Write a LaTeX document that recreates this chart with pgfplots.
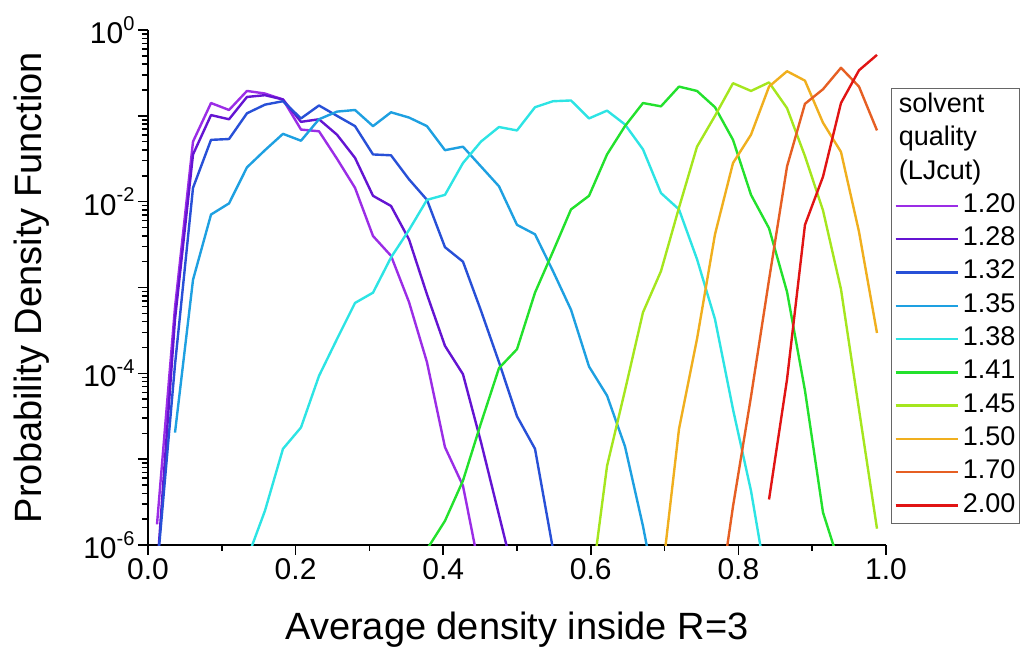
\documentclass[border=0pt]{standalone}
\usepackage{fontspec}
\setmainfont{Liberation Sans}
\usepackage{pgfplots}
\pgfplotsset{compat=1.18}
\definecolor{cA}{RGB}{155,45,230}
\definecolor{cB}{RGB}{100,20,210}
\definecolor{cC}{RGB}{40,80,215}
\definecolor{cD}{RGB}{30,160,225}
\definecolor{cE}{RGB}{45,228,228}
\definecolor{cF}{RGB}{35,225,45}
\definecolor{cG}{RGB}{165,230,30}
\definecolor{cH}{RGB}{240,175,30}
\definecolor{cI}{RGB}{230,95,35}
\definecolor{cJ}{RGB}{225,20,20}
\newcommand{\pw}[1]{10\raisebox{0.45em}{\fontsize{20}{20}\selectfont #1}}
\begin{document}
\begin{tikzpicture}
\useasboundingbox (-148pt,-108pt) rectangle (873pt,545pt);
\begin{axis}[
  scale only axis, width=738pt, height=515pt,
  at={(0pt,0pt)}, anchor=south west,
  xmin=0, xmax=1, ymode=log, ymin=1e-6, ymax=1,
  axis x line*=bottom, axis y line*=left,
  axis line style={line width=1.8pt, -},
  xtick={0,0.2,0.4,0.6,0.8,1.0}, xticklabels={0.0,0.2,0.4,0.6,0.8,1.0},
  minor xtick={0.1,0.3,0.5,0.7,0.9},
  ytick={1e-6,1e-5,1e-4,1e-3,1e-2,1e-1,1},
  yticklabels={\pw{-6},,\pw{-4},,\pw{-2},,\pw{0}},
  minor ytick={2e-6,3e-6,4e-6,5e-6,6e-6,7e-6,8e-6,9e-6,
               2e-5,3e-5,4e-5,5e-5,6e-5,7e-5,8e-5,9e-5,
               2e-4,3e-4,4e-4,5e-4,6e-4,7e-4,8e-4,9e-4,
               2e-3,3e-3,4e-3,5e-3,6e-3,7e-3,8e-3,9e-3,
               2e-2,3e-2,4e-2,5e-2,6e-2,7e-2,8e-2,9e-2,
               0.2,0.3,0.4,0.5,0.6,0.7,0.8,0.9},
  tick align=outside,
  major tick length=10pt, minor tick length=6pt,
  tick style={line width=1.5pt, black},
  tick label style={font=\fontsize{30}{34}\selectfont},
  xlabel={Average density inside R=3},
  ylabel={Probability Density Function},
  label style={font=\fontsize{38}{44}\selectfont},
  xlabel style={at={(axis description cs:0.5,-0.165)}, anchor=center},
  ylabel style={at={(axis description cs:-0.157,0.5)}, anchor=center},
  every axis plot/.append style={line width=2.4pt, line join=round, no markers},
  legend cell align=left,
  legend image code/.code={\draw[#1] (0pt,0pt) -- (62pt,0pt);},
  legend style={at={(axis description cs:1.0068,0.8874)}, anchor=north west,
    draw=black!60, line width=1pt, fill=white,
    font=\fontsize{27}{30}\selectfont,
    inner xsep=3pt, inner ysep=3pt, row sep=4.3pt, column sep=3pt,
    nodes={inner sep=1pt, text height=20pt, text depth=7pt}},
  clip=true,
]
\addlegendimage{legend image code/.code={}}
\addlegendentry{\hspace*{-64pt}solvent}
\addlegendimage{legend image code/.code={}}
\addlegendentry{\hspace*{-64pt}quality}
\addlegendimage{legend image code/.code={}}
\addlegendentry{\hspace*{-64pt}(LJcut)}

\addplot[cA] coordinates {
(0.0122,1.74e-6)(0.0366,5.89e-4)(0.0610,5.01e-2)(0.0854,0.141)(0.1098,0.117)
(0.1341,0.195)(0.1585,0.182)(0.1829,0.155)(0.2073,6.92e-2)(0.2317,6.61e-2)
(0.2561,3.16e-2)(0.2805,1.45e-2)(0.3049,3.98e-3)(0.3293,2.34e-3)(0.3537,6.76e-4)
(0.3780,1.35e-4)(0.4024,1.38e-5)(0.4268,4.90e-6)(0.4512,4.27e-7)};
\addlegendentry{1.20}

\addplot[cB] coordinates {
(0.0122,5.0e-7)(0.0366,4.27e-4)(0.0610,3.55e-2)(0.0854,0.102)(0.1098,9.12e-2)
(0.1341,0.166)(0.1585,0.174)(0.1829,0.155)(0.2073,8.51e-2)(0.2317,9.12e-2)
(0.2561,6.03e-2)(0.2805,3.24e-2)(0.3049,1.17e-2)(0.3293,8.91e-3)(0.3537,3.63e-3)
(0.3780,8.32e-4)(0.4024,2.09e-4)(0.4268,9.77e-5)(0.4512,1.58e-5)(0.4756,2.24e-6)
(0.5000,3.16e-7)};
\addlegendentry{1.28}

\addplot[cC] coordinates {
(0.0122,5.0e-7)(0.0366,1.26e-4)(0.0610,1.45e-2)(0.0854,5.25e-2)(0.1098,5.37e-2)
(0.1341,0.107)(0.1585,0.135)(0.1829,0.148)(0.2073,9.33e-2)(0.2317,0.132)
(0.2561,0.100)(0.2805,7.59e-2)(0.3049,3.55e-2)(0.3293,3.47e-2)(0.3537,1.82e-2)
(0.3780,1.05e-2)(0.4024,2.95e-3)(0.4268,2.00e-3)(0.4512,5.37e-4)(0.4756,1.35e-4)
(0.5000,3.16e-5)(0.5244,1.32e-5)(0.5488,8.9e-7)};
\addlegendentry{1.32}

\addplot[cD] coordinates {
(0.0366,2.04e-5)(0.0610,1.23e-3)(0.0854,7.08e-3)(0.1098,9.55e-3)
(0.1341,2.51e-2)(0.1585,3.98e-2)(0.1829,6.17e-2)(0.2073,5.13e-2)(0.2317,9.12e-2)
(0.2561,0.112)(0.2805,0.117)(0.3049,7.59e-2)(0.3293,0.110)(0.3537,9.55e-2)
(0.3780,7.59e-2)(0.4024,3.98e-2)(0.4268,4.37e-2)(0.4512,2.57e-2)(0.4756,1.51e-2)
(0.5000,5.37e-3)(0.5244,4.17e-3)(0.5488,1.55e-3)(0.5732,5.50e-4)(0.5976,1.20e-4)
(0.6220,5.50e-5)(0.6463,1.41e-5)(0.6707,1.66e-6)(0.6951,1.38e-7)};
\addlegendentry{1.35}

\addplot[cE] coordinates {
(0.1341,6.8e-7)(0.1585,2.51e-6)(0.1829,1.32e-5)(0.2073,2.34e-5)(0.2317,9.33e-5)
(0.2561,2.51e-4)(0.2805,6.61e-4)(0.3049,8.71e-4)(0.3293,2.24e-3)(0.3537,4.68e-3)
(0.3780,1.05e-2)(0.4024,1.20e-2)(0.4268,2.82e-2)(0.4512,5.01e-2)(0.4756,7.41e-2)
(0.5000,6.76e-2)(0.5244,0.126)(0.5488,0.148)(0.5732,0.151)(0.5976,9.33e-2)
(0.6220,0.115)(0.6463,7.94e-2)(0.6707,4.07e-2)(0.6951,1.26e-2)(0.7195,8.13e-3)
(0.7439,2.14e-3)(0.7683,4.27e-4)(0.7927,3.80e-5)(0.8171,4.27e-6)(0.8415,2.51e-7)};
\addlegendentry{1.38}

\addplot[cF] coordinates {
(0.3780,8.9e-7)(0.4024,1.91e-6)(0.4268,5.62e-6)(0.4512,2.63e-5)(0.4756,1.15e-4)
(0.5000,1.91e-4)(0.5244,8.71e-4)(0.5488,2.63e-3)(0.5732,8.13e-3)(0.5976,1.17e-2)
(0.6220,3.55e-2)(0.6463,7.59e-2)(0.6707,0.141)(0.6951,0.129)(0.7195,0.219)
(0.7439,0.195)(0.7683,0.126)(0.7927,5.25e-2)(0.8171,1.20e-2)(0.8415,4.90e-3)
(0.8659,8.91e-4)(0.8902,6.31e-5)(0.9146,2.40e-6)(0.9390,5.25e-7)};
\addlegendentry{1.41}

\addplot[cG] coordinates {
(0.5976,2.04e-7)(0.6220,8.32e-6)(0.6463,6.31e-5)(0.6707,5.13e-4)(0.6951,1.55e-3)
(0.7195,8.51e-3)(0.7439,4.37e-2)(0.7683,0.100)(0.7927,0.240)(0.8171,0.195)
(0.8415,0.245)(0.8659,0.123)(0.8902,3.39e-2)(0.9146,7.94e-3)(0.9390,9.55e-4)
(0.9634,3.80e-5)(0.9878,1.55e-6)};
\addlegendentry{1.45}

\addplot[cH] coordinates {
(0.6951,3.39e-7)(0.7195,2.24e-5)(0.7439,2.51e-4)(0.7683,4.17e-3)(0.7927,2.82e-2)
(0.8171,6.03e-2)(0.8415,0.219)(0.8659,0.331)(0.8902,0.257)(0.9146,8.32e-2)
(0.9390,3.80e-2)(0.9634,4.47e-3)(0.9878,2.95e-4)};
\addlegendentry{1.50}

\addplot[cI] coordinates {
(0.7683,1.02e-7)(0.7927,2.82e-6)(0.8171,5.37e-5)(0.8415,1.23e-3)(0.8659,2.57e-2)
(0.8902,0.138)(0.9146,0.204)(0.9390,0.363)(0.9634,0.219)(0.9878,6.76e-2)};
\addlegendentry{1.70}

\addplot[cJ] coordinates {
(0.8415,3.39e-6)(0.8659,8.51e-5)(0.8902,5.37e-3)(0.9146,1.95e-2)(0.9390,0.141)
(0.9634,0.339)(0.9878,0.513)};
\addlegendentry{2.00}
\end{axis}
\end{tikzpicture}
\end{document}
